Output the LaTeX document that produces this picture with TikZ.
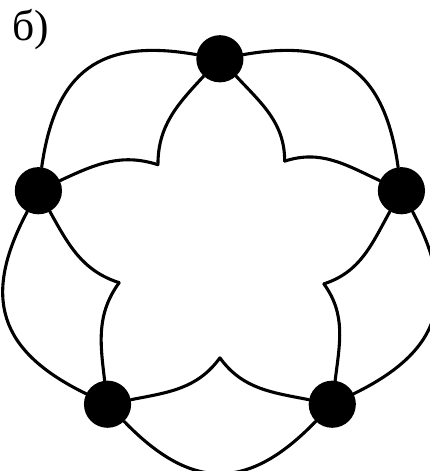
\documentclass[tikz,border=0pt]{standalone}
\usepackage{fontspec}
\newfontfamily\cyrfont{Liberation Serif}
\usetikzlibrary{positioning}

\begin{document}
\begin{tikzpicture}[x=1cm,y=1cm]
\tikzset{
  vertexdot/.style={circle,fill=black,draw=none,minimum size=1.18cm,inner sep=0pt},
  curveedge/.style={draw=black,line width=2.2pt,line cap=round,line join=round},
  outeredge/.style={curveedge,looseness=1.3},
  staredge/.style={curveedge}
}
\useasboundingbox (-5.50,-5.53) rectangle (5.25,6.25);
\node[font=\cyrfont\fontsize{31}{34}\selectfont] (lbl) at (-4.73,5.50) {б)};
\node[vertexdot] (v_t) at (0.00,4.78) {};
\node[vertexdot] (v_l) at (-4.54,1.48) {};
\node[vertexdot] (v_bl) at (-2.81,-3.86) {};
\node[vertexdot] (v_br) at (2.81,-3.86) {};
\node[vertexdot] (v_r) at (4.54,1.48) {};
\coordinate (c_tl) at (-1.55,2.13);
\coordinate (c_l) at (-2.52,-0.82);
\coordinate (c_b) at (0.00,-2.70);
\coordinate (c_r) at (2.60,-0.85);
\coordinate (c_tr) at (1.62,2.22);
% outer ring
\draw[outeredge] (v_t) to[out=170,in=82] (v_l);
\draw[outeredge] (v_l) to[out=242,in=154] (v_bl);
\draw[outeredge] (v_bl) to[out=314,in=226] (v_br);
\draw[outeredge] (v_br) to[out=26,in=298] (v_r);
\draw[outeredge] (v_r) to[out=98,in=10] (v_t);
% star
\draw[staredge] (v_t) to[out=227,in=90] (c_tl);
\draw[staredge] (v_t) to[out=313,in=90] (c_tr);
\draw[staredge] (v_l) to[out=299,in=162] (c_l);
\draw[staredge] (v_l) to[out=25,in=162] (c_tl);
\draw[staredge] (v_bl) to[out=11,in=234] (c_b);
\draw[staredge] (v_bl) to[out=97,in=234] (c_l);
\draw[staredge] (v_br) to[out=83,in=306] (c_r);
\draw[staredge] (v_br) to[out=169,in=306] (c_b);
\draw[staredge] (v_r) to[out=155,in=18] (c_tr);
\draw[staredge] (v_r) to[out=241,in=18] (c_r);
\end{tikzpicture}
\end{document}
